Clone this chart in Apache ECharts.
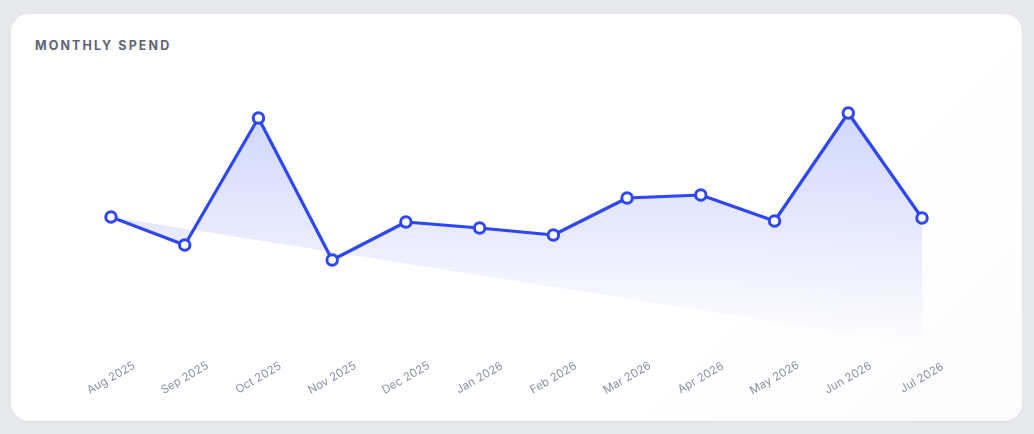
<!DOCTYPE html>
<html>
<head>
<meta charset="utf-8">
<script src="https://cdn.jsdelivr.net/npm/echarts@6/dist/echarts.min.js"></script>
<style>
  html, body { margin: 0; padding: 0; }
  body {
    width: 1034px; height: 434px; overflow: hidden;
    background: #e8e9ec;
    font-family: Inter, "Noto Sans", sans-serif;
  }
  .card {
    position: absolute; left: 11px; top: 14px; width: 1011px; height: 407px;
    border-radius: 18px;
    background: linear-gradient(135deg, #ffffff 70%, #fbfbfc 100%);
    box-shadow: 0 1px 3px rgba(20, 24, 40, 0.05);
  }
  .title {
    position: absolute; left: 24px; top: 24px;
    font-size: 12.5px; font-weight: 700; letter-spacing: 2.1px;
    color: #5d6474;
  }
  #chart { position: absolute; left: 0; top: 0; width: 1034px; height: 434px; }
</style>
</head>
<body>
<div class="card"><div class="title">MONTHLY SPEND</div></div>
<div id="chart"></div>
<script>
// 月份
const months = ['Aug 2025', 'Sep 2025', 'Oct 2025', 'Nov 2025', 'Dec 2025', 'Jan 2026',
  'Feb 2026', 'Mar 2026', 'Apr 2026', 'May 2026', 'Jun 2026', 'Jul 2026'];
// 每月支出
const spend = [2560, 2000, 4540, 1700, 2460, 2340, 2200, 2940, 3000, 2480, 4640, 2540];

const lineColor = '#2d46f6';

const chart = echarts.init(document.getElementById('chart'), null, { renderer: 'canvas' });

const option = {
  animation: false,
  grid: { left: 111, right: 112, top: 95, bottom: 89 },
  xAxis: {
    type: 'category',
    data: months,
    boundaryGap: false,
    axisLine: { show: false },
    axisTick: { show: false },
    splitLine: { show: false },
    axisLabel: {
      rotate: 30,
      align: 'center',
      verticalAlign: 'middle',
      margin: 33,
      color: '#8a90a0',
      fontSize: 11.5,
      fontFamily: 'Inter'
    }
  },
  yAxis: {
    type: 'value',
    min: 0,
    max: 5000,
    show: false
  },
  series: [{
    // 渐变填充区域，从首点斜向收于末点底部
    type: 'custom',
    data: spend,
    z: 1,
    silent: true,
    renderItem(params, api) {
      if (params.dataIndex !== 0) return;
      const pts = spend.map((v, i) => api.coord([i, v]));
      pts.push(api.coord([months.length - 1, 0]));
      return {
        type: 'polygon',
        shape: { points: pts },
        style: {
          fill: new echarts.graphic.LinearGradient(0, 0, 0, 1, [
            { offset: 0, color: 'rgba(60, 84, 250, 0.24)' },
            { offset: 1, color: 'rgba(60, 84, 250, 0.0)' }
          ])
        }
      };
    }
  }, {
    type: 'line',
    data: spend,
    z: 3,
    symbol: 'circle',
    symbolSize: 10.5,
    lineStyle: { color: lineColor, width: 3.2 },
    itemStyle: { color: '#ffffff', borderColor: lineColor, borderWidth: 3 }
  }]
};

chart.setOption(option);
</script>
</body>
</html>
